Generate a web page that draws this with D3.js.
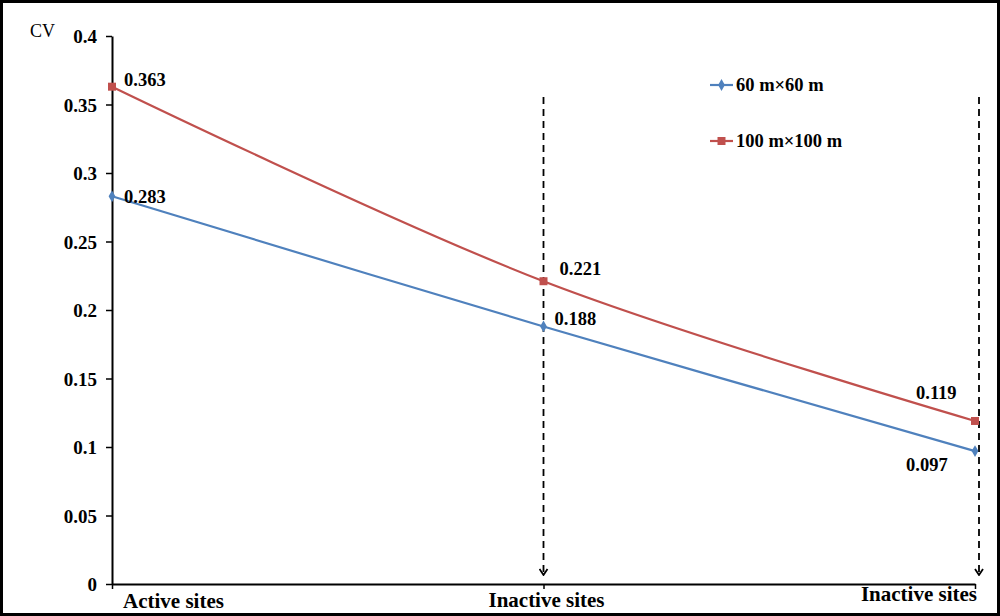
<!DOCTYPE html>
<html>
<head>
<meta charset="utf-8">
<script src="https://cdn.jsdelivr.net/npm/d3@7/dist/d3.min.js"></script>
<style>
  body { margin: 0; background: #fff; }
  svg { display: block; }
  text { font-family: 'Liberation Serif', 'Times New Roman', serif; fill: #000; }
</style>
</head>
<body>
<div id="chart"></div>
<script>
  'use strict';

  // data
  var categories = ['Active sites', 'Inactive sites', 'Inactive sites'];
  var seriesNames = ['60 m\u00d760 m', '100 m\u00d7100 m'];
  var cv60 = [0.283, 0.188, 0.097];
  var cv100 = [0.363, 0.221, 0.119];
  var yTicks = [0, 0.05, 0.1, 0.15, 0.2, 0.25, 0.3, 0.35, 0.4];
  var yTickLabels = ['0', '0.05', '0.1', '0.15', '0.2', '0.25', '0.3', '0.35', '0.4'];

  var width = 1000, height = 616;

  var area = { left: 112, right: 975, top: 36, bottom: 584 };

  var svg = d3.select('#chart')
  .append('svg')
    .attr('width', width)
    .attr('height', height)
    .attr('viewBox', '0 0 ' + width + ' ' + height);

  // frame
  svg.append('rect')
    .attr('x', 1.5).attr('y', 1.5)
    .attr('width', width - 3).attr('height', height - 3)
    .attr('fill', '#fff')
    .attr('stroke', '#000')
    .attr('stroke-width', 3);

  var x = d3.scaleLinear()
    .domain([0, categories.length - 1])
    .range([area.left, area.right]);

  var y = d3.scaleLinear()
    .domain([0, 0.4])
    .range([area.bottom, area.top]);

  var chart = svg.append('g');

  // dashed arrows at the inactive sites
  svg.append('defs').append('marker')
    .attr('id', 'arrow')
    .attr('viewBox', '0 0 10 10')
    .attr('refX', 9).attr('refY', 5)
    .attr('markerWidth', 10).attr('markerHeight', 10)
    .attr('markerUnits', 'userSpaceOnUse')
    .attr('orient', 'auto')
  .append('path')
    .attr('d', 'M3,1 L9,5 L3,9')
    .attr('fill', 'none')
    .attr('stroke', '#000')
    .attr('stroke-width', 1.8);

  var arrowShift = [0, 0, 4];
  chart.append('g')
    .attr('id', 'arrows')
  .selectAll('line')
  .data([1, 2])
  .enter().append('line')
    .attr('x1', function(d) { return x(d) + arrowShift[d]; })
    .attr('x2', function(d) { return x(d) + arrowShift[d]; })
    .attr('y1', 97)
    .attr('y2', 575)
    .attr('stroke', '#000')
    .attr('stroke-width', 1.8)
    .attr('stroke-dasharray', '7,5')
    .attr('marker-end', 'url(#arrow)');

  // y axis
  var yAxis = d3.axisLeft(y)
    .tickValues(yTicks)
    .tickFormat(function(d, i) { return yTickLabels[i]; })
    .tickSize(6)
    .tickSizeOuter(0)
    .tickPadding(9);

  var yg = chart.append('g')
    .attr('transform', 'translate(' + area.left + ',0)')
    .call(yAxis);
  yg.select('.domain').attr('stroke', '#000').attr('stroke-width', 2);
  yg.selectAll('.tick line').attr('stroke', '#000').attr('stroke-width', 1.5);
  yg.selectAll('.tick text')
    .attr('font-size', '19px')
    .attr('font-weight', 'bold')
    .attr('font-family', "'Liberation Serif', serif")
    .attr('dy', '0.36em');

  // x axis
  var xAxis = d3.axisBottom(x)
    .tickValues([0, 1, 2])
    .tickFormat('')
    .tickSize(5)
    .tickSizeOuter(0);

  var xg = chart.append('g')
    .attr('transform', 'translate(0,' + area.bottom + ')')
    .call(xAxis);
  xg.select('.domain').attr('stroke', '#000').attr('stroke-width', 2);
  xg.selectAll('.tick line').attr('stroke', '#000').attr('stroke-width', 1.5);

  var catAnchor = ['start', 'middle', 'end'];
  var catDx = [11, 3, 2];
  var catY = [608, 607, 601];
  chart.append('g')
    .attr('id', 'categories')
  .selectAll('text')
  .data(categories)
  .enter().append('text')
    .attr('x', function(d, i) { return x(i) + catDx[i]; })
    .attr('y', function(d, i) { return catY[i]; })
    .attr('text-anchor', function(d, i) { return catAnchor[i]; })
    .attr('font-size', '21px')
    .attr('font-weight', 'bold')
    .text(function(d) { return d; });

  chart.append('text')
    .attr('x', 30)
    .attr('y', 37)
    .attr('font-size', '18px')
    .text('CV');

  // series
  var series = [
    { name: seriesNames[0], values: cv60, color: '#4f81bd', symbol: d3.symbolDiamond, size: 40 },
    { name: seriesNames[1], values: cv100, color: '#c0504d', symbol: d3.symbolSquare, size: 64 }
  ];

  var lineGen = d3.line()
    .curve(d3.curveCatmullRom.alpha(0.5))
    .x(function(d, i) { return x(i); })
    .y(function(d) { return y(d); });

  var s = chart.selectAll('.series')
  .data(series)
  .enter().append('g')
    .attr('class', 'series');

  s.append('path')
    .attr('d', function(d) { return lineGen(d.values); })
    .attr('fill', 'none')
    .attr('stroke', function(d) { return d.color; })
    .attr('stroke-width', 2.2);

  s.selectAll('path.pt')
  .data(function(d) { return d.values.map(function(v, i) { return { v: v, i: i, s: d }; }); })
  .enter().append('path')
    .attr('class', 'pt')
    .attr('d', function(d) { return d3.symbol().type(d.s.symbol).size(d.s.size)(); })
    .attr('transform', function(d) { return 'translate(' + x(d.i) + ',' + y(d.v) + ')'; })
    .attr('fill', function(d) { return d.s.color; });

  // data labels (offsets relative to the point)
  var labelOff = [
    [[12, 7], [11, -1], [-69, 20]],
    [[12, -1], [16, -6], [-59, -22]]
  ];
  s.selectAll('text')
  .data(function(d, si) { return d.values.map(function(v, i) { return { v: v, i: i, off: labelOff[si][i] }; }); })
  .enter().append('text')
    .attr('x', function(d) { return x(d.i) + d.off[0]; })
    .attr('y', function(d) { return y(d.v) + d.off[1]; })
    .attr('font-size', '18.5px')
    .attr('font-weight', 'bold')
    .text(function(d) { return d3.format('.3f')(d.v); });

  // legend
  var legend = chart.append('g')
    .attr('id', 'legend')
  .selectAll('g')
  .data(series)
  .enter().append('g')
    .attr('transform', function(d, i) { return 'translate(710,' + (85 + i * 56) + ')'; });

  legend.append('line')
    .attr('x1', 0).attr('x2', 23)
    .attr('stroke', function(d) { return d.color; })
    .attr('stroke-width', 2.2);

  legend.append('path')
    .attr('d', function(d) { return d3.symbol().type(d.symbol).size(d.size)(); })
    .attr('transform', 'translate(11.5,0)')
    .attr('fill', function(d) { return d.color; });

  legend.append('text')
    .attr('x', 26)
    .attr('y', 6)
    .attr('font-size', '18.5px')
    .attr('font-weight', 'bold')
    .text(function(d) { return d.name; });
</script>
</body>
</html>
